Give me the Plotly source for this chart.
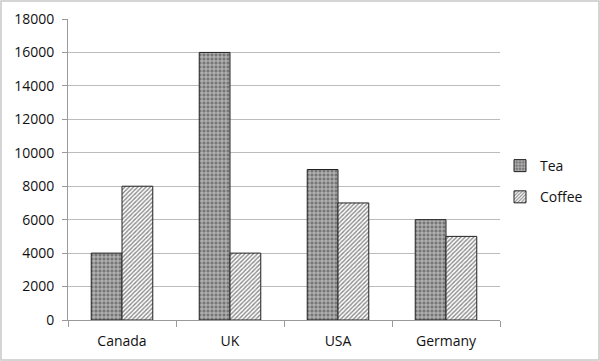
import plotly.graph_objects as go

categories = ["Canada", "UK", "USA", "Germany"]
tea = [4000, 16000, 9000, 6000]
coffee = [8000, 4000, 7000, 5000]
y_ticks = list(range(0, 18001, 2000))
y_ticklabels = [str(v) for v in y_ticks]

L, R, T, B = 68, 100, 19, 41
W, H = 600, 361
pw, ph = W - L - R, H - T - B

fig = go.Figure()
fig.add_trace(go.Bar(
    name="Tea", x=categories, y=tea, legendgroup="tea",
    marker=dict(color="#8a8a8a", line=dict(color="#222222", width=1),
                pattern=dict(shape="+", fgcolor="#d0d0d0", bgcolor="#767676", size=4, solidity=0.35, fillmode="replace")),
))
fig.add_trace(go.Bar(
    name="Coffee", x=categories, y=coffee, legendgroup="coffee",
    marker=dict(color="white", line=dict(color="#222222", width=1),
                pattern=dict(shape="/", fgcolor="#8a8a8a", bgcolor="white", size=3, solidity=0.45, fillmode="replace")),
))

fig.update_layout(
    width=W, height=H,
    margin=dict(l=L, r=R, t=T, b=B, autoexpand=False),
    paper_bgcolor="white", plot_bgcolor="white",
    barmode="group", bargap=0.43, bargroupgap=0,
    font=dict(family="Open Sans, Liberation Sans, sans-serif", size=14, color="#111111"),
    showlegend=True,
    legend=dict(x=1.0, y=0.46, xanchor="left", yanchor="middle", font=dict(size=14),
                bgcolor="rgba(0,0,0,0)", itemwidth=30, tracegroupgap=10),
    xaxis=dict(showline=True, linecolor="#9a9a9a", linewidth=1, ticks="outside", ticklen=6,
               tickcolor="#9a9a9a", tickson="boundaries", showgrid=False, range=[-0.5, 3.5],
               ticklabelstandoff=8),
    yaxis=dict(range=[0, 18000], tickvals=y_ticks, ticktext=y_ticklabels, showgrid=True,
               gridcolor="#bcbcbc", gridwidth=1,
               showline=True, linecolor="#9a9a9a", linewidth=1, ticks="outside", ticklen=5,
               tickcolor="#9a9a9a", zeroline=False, ticklabelstandoff=5),
    shapes=[dict(type="rect", xref="paper", yref="paper",
                 x0=-(L - 1) / pw, x1=(pw + R - 1) / pw, y0=-(B - 1) / ph, y1=(ph + T - 1) / ph,
                 line=dict(color="#c8c8c8", width=1.5), layer="below")],
)

fig.write_html("out.html", config={"displayModeBar": False},
               post_script="document.body.style.margin='0';document.body.style.overflow='hidden';")
